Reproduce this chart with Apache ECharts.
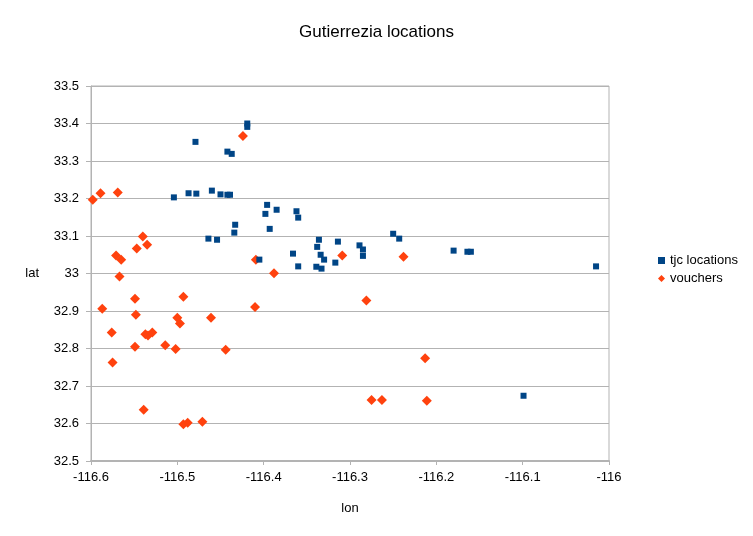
<!DOCTYPE html>
<html>
<head>
<meta charset="utf-8">
<script src="https://cdn.jsdelivr.net/npm/echarts@6/dist/echarts.min.js"></script>
<style>html,body{margin:0;padding:0;background:#fff;}#c{width:753px;height:536px;}</style>
</head>
<body>
<div id="c"></div>
<script>
var title = 'Gutierrezia locations';
var seriesNames = ['tjc locations', 'vouchers'];
var tjcLon = [-116.419,-116.419,-116.479,-116.442,-116.437,-116.504,-116.487,-116.478,-116.460,-116.450,-116.442,-116.439,-116.396,-116.385,-116.362,-116.398,-116.360,-116.433,-116.393,-116.434,-116.464,-116.454,-116.366,-116.405,-116.360,-116.250,-116.243,-116.336,-116.314,-116.338,-116.289,-116.285,-116.334,-116.285,-116.330,-116.317,-116.339,-116.333,-116.180,-116.164,-116.160,-116.015,-116.099];
var tjcLat = [33.400,33.391,33.351,33.325,33.319,33.203,33.214,33.213,33.221,33.211,33.210,33.210,33.183,33.170,33.166,33.159,33.149,33.130,33.119,33.109,33.093,33.090,33.053,33.037,33.019,33.106,33.093,33.090,33.085,33.071,33.075,33.064,33.050,33.047,33.037,33.029,33.018,33.013,33.061,33.058,33.058,33.019,32.674];
var vLon = [-116.598,-116.589,-116.569,-116.571,-116.565,-116.547,-116.540,-116.535,-116.567,-116.424,-116.409,-116.388,-116.587,-116.549,-116.548,-116.576,-116.575,-116.549,-116.537,-116.534,-116.529,-116.514,-116.502,-116.500,-116.497,-116.493,-116.461,-116.444,-116.410,-116.539,-116.493,-116.488,-116.471,-116.309,-116.238,-116.281,-116.213,-116.275,-116.263,-116.211];
var vLat = [33.197,33.214,33.216,33.048,33.037,33.067,33.099,33.077,32.992,33.367,33.037,33.001,32.906,32.933,32.890,32.843,32.763,32.805,32.838,32.835,32.843,32.809,32.799,32.882,32.867,32.938,32.882,32.797,32.911,32.637,32.598,32.602,32.605,33.048,33.045,32.928,32.774,32.663,32.663,32.661];
var xTicks = {min: -116.6, max: -116, interval: 0.1};
var yTicks = {min: 32.5, max: 33.5, interval: 0.1};
var xName = 'lon', yName = 'lat';

function pairs(a, b) { return a.map(function (v, i) { return [v, b[i]]; }); }
var font = 'Liberation Sans, Arial, sans-serif';
var chart = echarts.init(document.getElementById('c'));
chart.setOption({
  animation: false,
  backgroundColor: '#ffffff',
  title: {text: title, left: 'center', top: 19, textStyle: {fontFamily: font, fontSize: 17, fontWeight: 'normal', color: '#000'}},
  grid: {left: 91, right: 144, top: 86, bottom: 75, show: true, borderColor: '#b3b3b3', borderWidth: 1},
  legend: {orient: 'vertical', left: 653, top: 249, itemWidth: 7, itemHeight: 7, itemGap: 5,
    textStyle: {fontFamily: font, fontSize: 13, color: '#000'},
    data: [{name: seriesNames[0], icon: 'rect'}, {name: seriesNames[1], icon: 'diamond'}]},
  xAxis: {type: 'value', min: xTicks.min, max: xTicks.max, interval: xTicks.interval,
    name: xName, nameLocation: 'middle', nameGap: 41, nameTextStyle: {fontFamily: font, fontSize: 13, color: '#000'},
    axisLine: {show: true, onZero: false, lineStyle: {color: '#b3b3b3', width: 2}},
    axisTick: {show: true, length: 4, lineStyle: {color: '#b3b3b3'}},
    axisLabel: {fontFamily: font, fontSize: 13, color: '#000', margin: 10},
    splitLine: {show: false}},
  yAxis: {type: 'value', min: yTicks.min, max: yTicks.max, interval: yTicks.interval,
    name: yName, nameLocation: 'middle', nameRotate: 0, nameGap: 52, nameTextStyle: {fontFamily: font, fontSize: 13, color: '#000'},
    axisLine: {show: true, onZero: false, lineStyle: {color: '#b3b3b3', width: 1}},
    axisTick: {show: true, length: 5, lineStyle: {color: '#b3b3b3'}},
    axisLabel: {fontFamily: font, fontSize: 13, color: '#000', margin: 12},
    splitLine: {show: true, lineStyle: {color: '#b3b3b3', width: 1}}},
  series: [
    {name: seriesNames[0], type: 'scatter', symbol: 'rect', symbolSize: 6, z: 3,
      itemStyle: {color: '#004586', opacity: 1}, data: pairs(tjcLon, tjcLat)},
    {name: seriesNames[1], type: 'scatter', symbol: 'diamond', symbolSize: 10, z: 2,
      itemStyle: {color: '#ff420e', opacity: 1}, data: pairs(vLon, vLat)}
  ]
});
</script>
</body>
</html>
